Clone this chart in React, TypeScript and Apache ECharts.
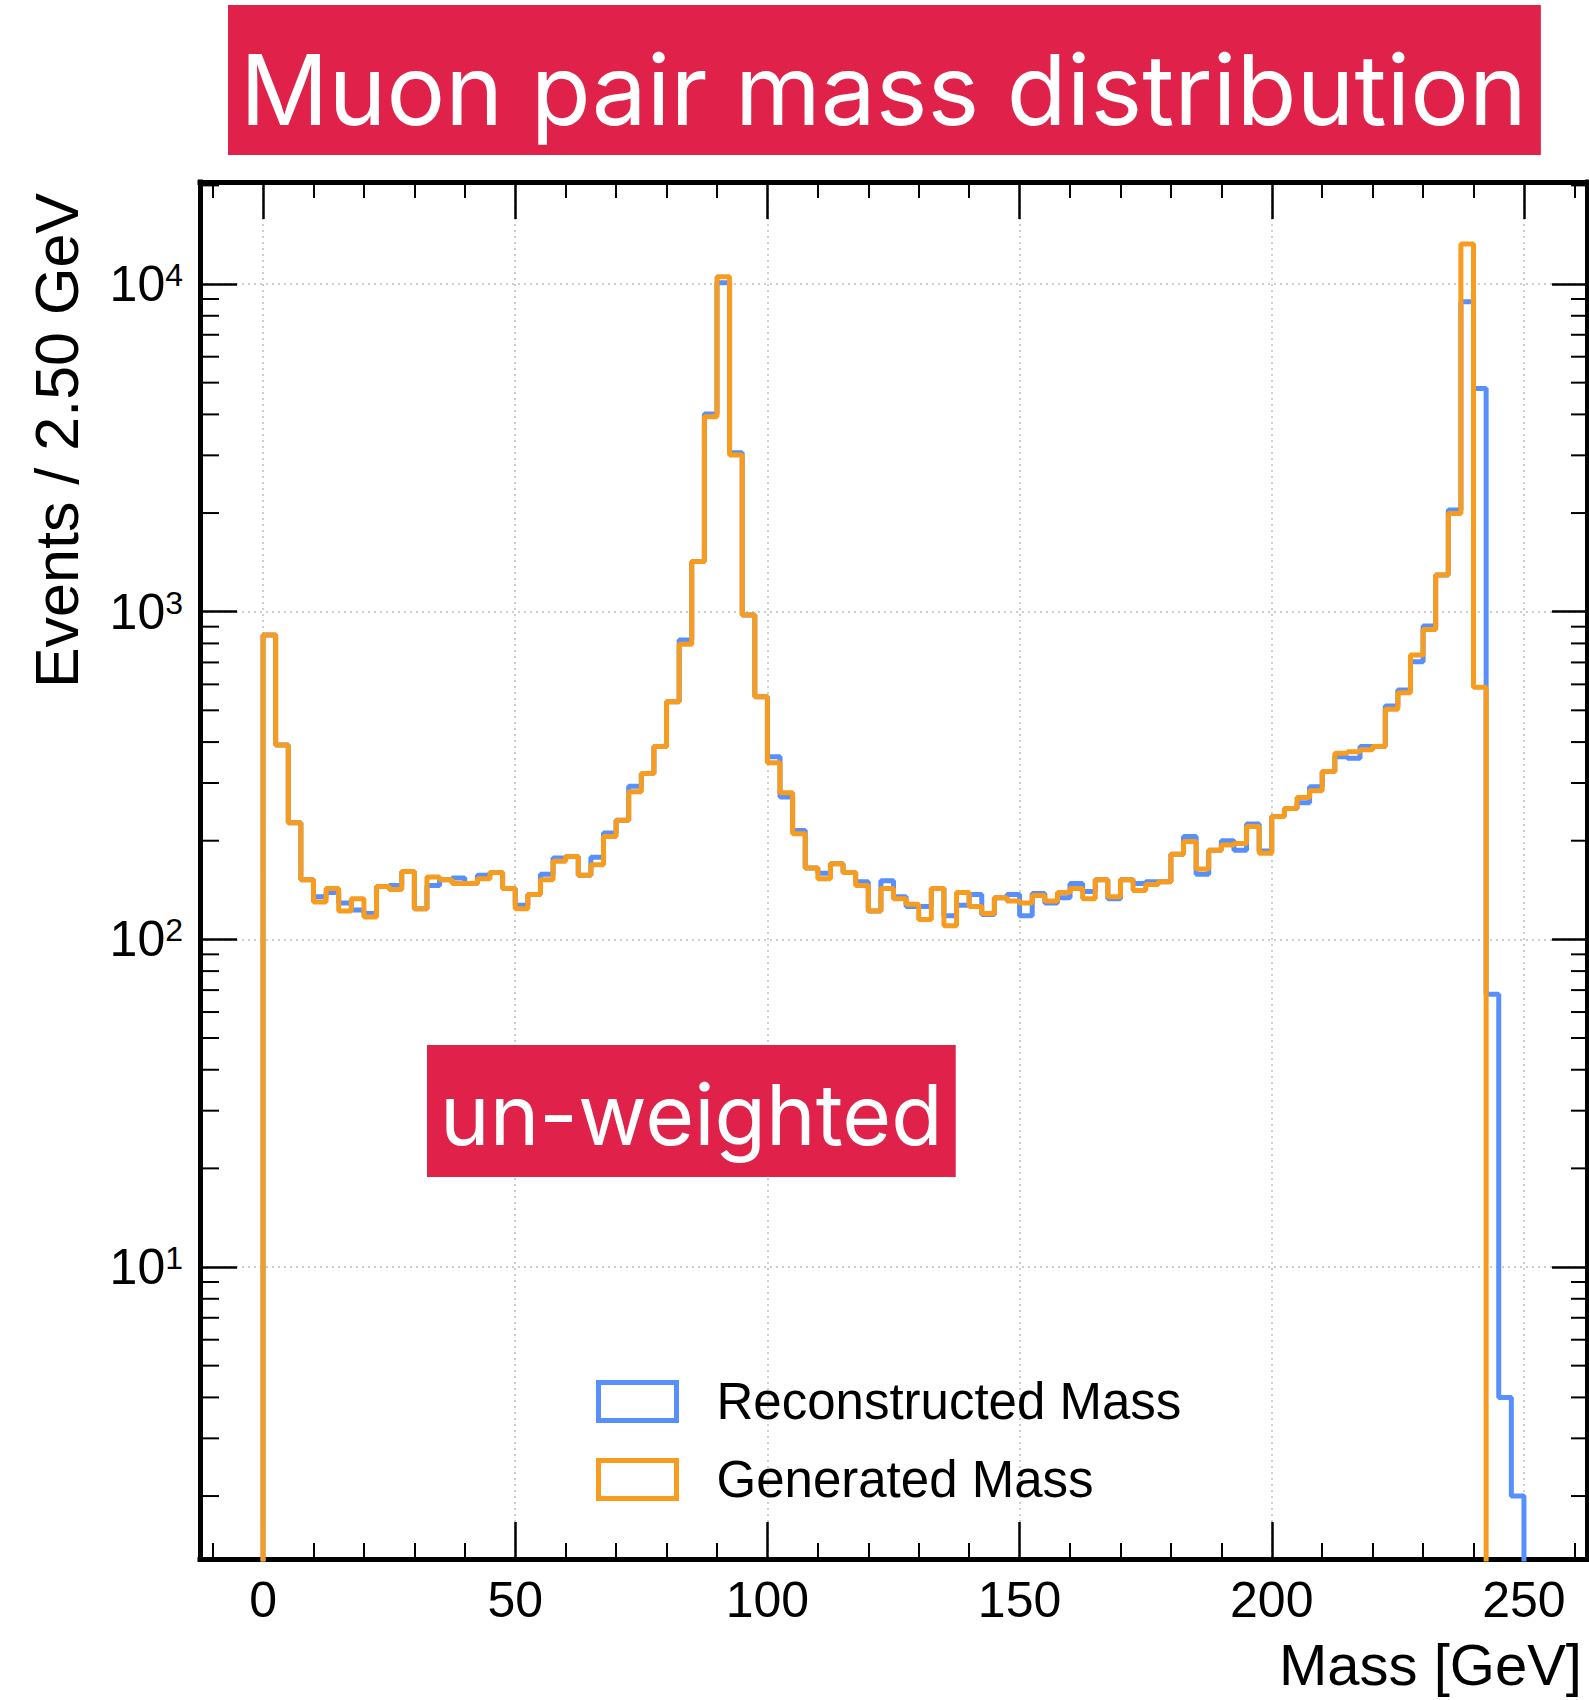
import React, { useEffect, useRef } from "react";
import * as echarts from "echarts";

// ---------- data ----------
const BIN_WIDTH = 2.5; // GeV per bin, bins start at 0
const GENERATED = [
  849, 392, 227, 152, 130, 143, 122, 133, 117, 145,
  142, 161, 124, 155, 152, 148, 148, 153, 160, 143,
  124, 137, 152, 173, 179, 157, 169, 206, 231, 282,
  321, 388, 531, 795, 1422, 3937, 10520, 3007, 977, 550,
  346, 280, 210, 165, 153, 170, 160, 146, 122, 143,
  133, 128, 115, 143, 110, 139, 126, 120, 134, 131,
  129, 136, 131, 139, 143, 133, 152, 135, 152, 141,
  147, 150, 182, 199, 164, 187, 194, 196, 221, 183,
  237, 251, 271, 284, 325, 370, 374, 379, 388, 504,
  566, 738, 883, 1294, 1995, 13240, 588,
];
const RECONSTRUCTED = [
  849, 392, 227, 152, 135, 139, 129, 123, 120, 145,
  146, 161, 124, 146, 152, 154, 148, 157, 160, 143,
  127, 137, 158, 177, 179, 157, 178, 211, 231, 293,
  321, 388, 531, 820, 1422, 4010, 10090, 3055, 977, 550,
  361, 272, 215, 165, 159, 170, 160, 150, 122, 151,
  135, 126, 126, 143, 118, 127, 137, 119, 134, 137,
  118, 138, 129, 134, 148, 140, 152, 133, 152, 148,
  150, 150, 182, 206, 158, 187, 200, 187, 225, 186,
  237, 251, 261, 292, 325, 361, 357, 388, 388, 515,
  577, 704, 904, 1294, 2043, 8830, 4800, 68, 4, 2,
];
const X_RANGE = [-12.5, 262.5];
const Y_RANGE = [1.285, 20480];
const Y_MINOR_TICKS = [
  2, 3, 4, 5, 6, 7, 8, 9,
  20, 30, 40, 50, 60, 70, 80, 90,
  200, 300, 400, 500, 600, 700, 800, 900,
  2000, 3000, 4000, 5000, 6000, 7000, 8000, 9000,
  20000,
];
const SERIES_NAMES = ["Reconstructed Mass", "Generated Mass"];
const TITLE = "Muon pair mass distribution";
const TAG = "un-weighted";
const X_NAME = "Mass [GeV]";
const Y_NAME = "Events / 2.50 GeV";

// ---------- styles ----------
const BLUE = "#5790fc";
const ORANGE = "#f89c20";
const RED = "#e0224a";
const FLOOR = 0.1; // below the visible log range: histogram drops off-plot
const NUM_FONT = "'Liberation Sans', Arial, sans-serif";
const TITLE_FONT = "Inter, 'Noto Sans', sans-serif";

function toSteps(values: number[]): number[][] {
  const pts: number[][] = [[0, FLOOR]];
  values.forEach((v, i) => pts.push([i * BIN_WIDTH, v]));
  const end = values.length * BIN_WIDTH;
  pts.push([end, values[values.length - 1]]);
  pts.push([end, FLOOR]);
  return pts;
}

function isPow10(v: number) {
  const l = Math.log10(v);
  return Math.abs(l - Math.round(l)) < 1e-6;
}

export default function App() {
  const ref = useRef<HTMLDivElement>(null);
  useEffect(() => {
    if (!ref.current) return;
    const chart = echarts.init(ref.current, undefined, { renderer: "svg" });

    const frameLine = { color: "#000", width: 5, cap: "square" as const };
    const majorTick = { inside: true, length: 37, lineStyle: { color: "#000", width: 2.5 } };
    const grid = { color: "#bdbdbd", width: 1.5, type: [2, 4] as any };

    const xBase = {
      type: "value" as const,
      min: X_RANGE[0],
      max: X_RANGE[1],
      splitNumber: 5,
      axisLine: { show: true, onZero: false, lineStyle: frameLine },
      axisTick: majorTick,
      minorTick: { show: true, splitNumber: 5, length: 16, lineStyle: { color: "#000", width: 2 } },
    };
    const yBase = {
      type: "log" as const,
      logBase: 10,
      min: Y_RANGE[0],
      max: Y_RANGE[1],
      axisLine: { show: true, onZero: false, lineStyle: frameLine },
      axisTick: majorTick,
    };

    chart.setOption({
      animation: false,
      backgroundColor: "#fff",
      title: [
        {
          text: TITLE,
          left: 228,
          top: 5,
          backgroundColor: RED,
          padding: [26, 14, 8, 12],
          textStyle: { color: "#fff", fontSize: 98, fontWeight: 400, fontFamily: TITLE_FONT, lineHeight: 116 },
        },
        {
          text: TAG,
          left: 427,
          top: 1045,
          backgroundColor: RED,
          padding: [19, 13, 13, 13],
          textStyle: { color: "#fff", fontSize: 84, fontWeight: 400, fontFamily: TITLE_FONT, lineHeight: 100 },
        },
      ],
      grid: { left: 200, right: 2, top: 182, bottom: 141, containLabel: false, outerBoundsMode: "none" },
      legend: {
        orient: "vertical",
        left: 591,
        top: 1371,
        itemWidth: 78,
        itemHeight: 38,
        itemGap: 27,
        selectedMode: false,
        textStyle: { fontSize: 51, fontFamily: NUM_FONT, color: "#000", lineHeight: 51, padding: [0, 0, 0, 35] },
        data: [
          { name: SERIES_NAMES[0], icon: "rect", itemStyle: { color: "rgba(0,0,0,0)", borderColor: BLUE, borderWidth: 5 } },
          { name: SERIES_NAMES[1], icon: "rect", itemStyle: { color: "rgba(0,0,0,0)", borderColor: ORANGE, borderWidth: 5 } },
        ],
      },
      xAxis: [
        {
          ...xBase,
          position: "bottom",
          axisLabel: {
            fontSize: 50, fontFamily: NUM_FONT, color: "#000", margin: 16,
            formatter: (v: number) => (Math.abs(v % 50) < 1e-9 ? String(v) : ""),
          },
          splitLine: { show: true, lineStyle: grid },
        },
        {
          ...xBase,
          position: "top",
          axisLabel: { show: false },
          splitLine: { show: false },
        },
      ],
      yAxis: [
        {
          ...yBase,
          position: "left",
          axisLabel: {
            margin: 17,
            formatter: (v: number) => (isPow10(v) ? `{b|10}{s|${Math.round(Math.log10(v))}}` : ""),
            rich: {
              b: { fontSize: 50, fontFamily: NUM_FONT, color: "#000" },
              s: { fontSize: 32, fontFamily: NUM_FONT, color: "#000", verticalAlign: "top" },
            },
          },
          splitLine: { show: true, lineStyle: grid },
        },
        {
          ...yBase,
          position: "right",
          axisTick: { ...majorTick, length: 35 },
          axisLabel: { show: false },
          splitLine: { show: false },
        },
      ],
      graphic: [
        {
          type: "text",
          x: 57,
          y: 193,
          rotation: Math.PI / 2,
          style: {
            text: Y_NAME, fontSize: 61, fontFamily: NUM_FONT, fill: "#000",
            align: "right", verticalAlign: "middle",
          },
        },
        {
          type: "text",
          x: 1582,
          y: 1664,
          style: {
            text: X_NAME, fontSize: 58, fontFamily: NUM_FONT, fill: "#000",
            align: "right", verticalAlign: "middle",
          },
        },
      ],
      series: [
        {
          name: SERIES_NAMES[0],
          type: "line",
          step: "end",
          symbol: "none",
          color: BLUE,
          lineStyle: { color: BLUE, width: 5 },
          data: toSteps(RECONSTRUCTED),
          z: 3,
        },
        {
          name: SERIES_NAMES[1],
          type: "line",
          step: "end",
          symbol: "none",
          color: ORANGE,
          lineStyle: { color: ORANGE, width: 5 },
          data: toSteps(GENERATED),
          z: 4,
        },
        {
          type: "custom",
          silent: true,
          z: 5,
          data: Y_MINOR_TICKS.map((v) => [X_RANGE[0], v]),
          renderItem: (_p: any, api: any) => {
            const v = api.value(1);
            const l = api.coord([X_RANGE[0], v]);
            const r = api.coord([X_RANGE[1], v]);
            return {
              type: "group",
              children: [
                { type: "line", shape: { x1: l[0], y1: l[1], x2: l[0] + 19, y2: l[1] }, style: { stroke: "#000", lineWidth: 2 } },
                { type: "line", shape: { x1: r[0] - 16, y1: r[1], x2: r[0], y2: r[1] }, style: { stroke: "#000", lineWidth: 2 } },
              ],
            };
          },
        },
      ],
    });
    return () => chart.dispose();
  }, []);

  return (
    <div
      ref={ref}
      style={{ position: "absolute", left: 0, top: 0, width: 1589, height: 1700 }}
    />
  );
}
